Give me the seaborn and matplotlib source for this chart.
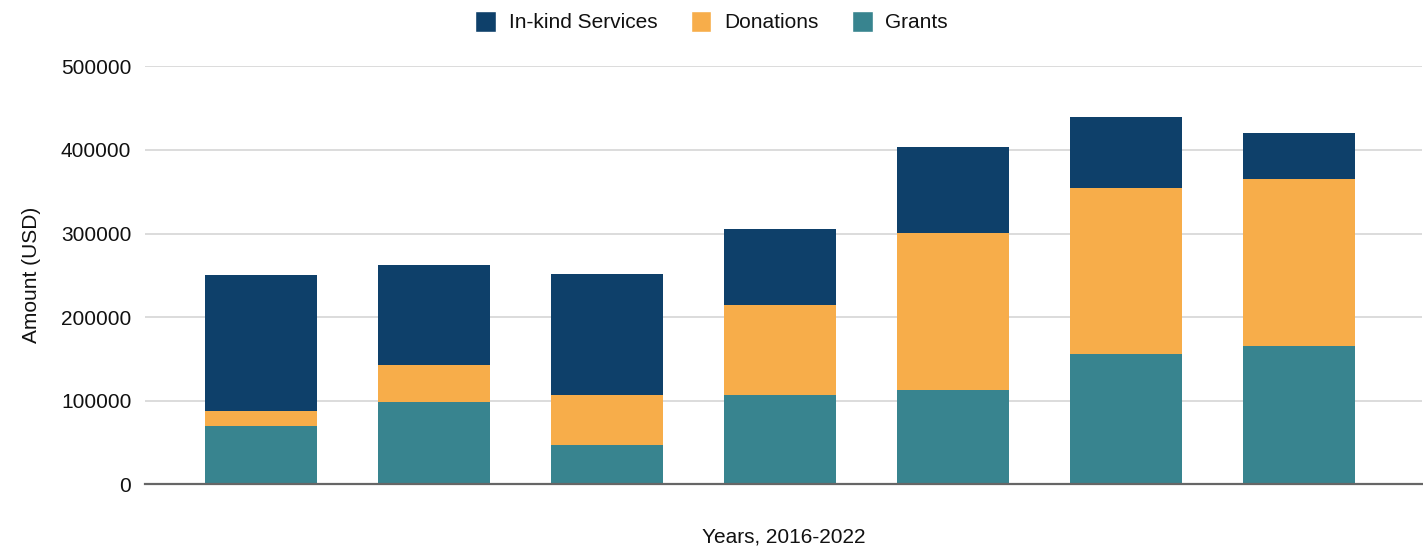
import pandas as pd
import matplotlib.pyplot as plt
from matplotlib.patches import Patch
import seaborn as sns

years = [2016, 2017, 2018, 2019, 2020, 2021, 2022]
grants = [70000, 98000, 47000, 107000, 113000, 156000, 166000]
donations = [18000, 45000, 60000, 107000, 188000, 198000, 199000]
in_kind = [162000, 119000, 145000, 91000, 102000, 85000, 55000]

colors = {"In-kind Services": "#0e406a", "Donations": "#f7ad4a", "Grants": "#38848f"}

df = pd.DataFrame({"year": years, "grants": grants,
                   "donations": donations, "in_kind": in_kind})
df["lvl_grants"] = df["grants"]
df["lvl_donations"] = df["grants"] + df["donations"]
df["lvl_total"] = df["lvl_donations"] + df["in_kind"]

sns.set_theme(style="white")
plt.rcParams["font.family"] = ["Liberation Sans", "DejaVu Sans"]
plt.rcParams["text.color"] = "#111111"
plt.rcParams["axes.labelcolor"] = "#111111"
plt.rcParams["ytick.color"] = "#111111"

fig, ax = plt.subplots(figsize=(14.23, 5.48), dpi=100)
plt.subplots_adjust(left=0.102, right=0.999, bottom=0.116, top=0.879)

# draw back to front so the stacks show
for col, name in [("lvl_total", "In-kind Services"),
                  ("lvl_donations", "Donations"),
                  ("lvl_grants", "Grants")]:
    sns.barplot(data=df, x="year", y=col, color=colors[name],
                width=0.65, saturation=1, ax=ax, zorder=3,
                edgecolor="none", linewidth=0)

ax.set_ylim(0, 500000)
ax.set_xlim(-0.67, 6.71)
ax.set_yticks([0, 100000, 200000, 300000, 400000, 500000])
ax.set_yticklabels(["0", "100000", "200000", "300000", "400000", "500000"], fontsize=15)
ax.set_xticks([])
ax.yaxis.grid(True, color="#d9d9d9", linewidth=1.3, zorder=0)
ax.tick_params(axis="y", length=0, pad=10)
for s in ["top", "right", "left"]:
    ax.spines[s].set_visible(False)
ax.spines["bottom"].set_color("#666666")
ax.spines["bottom"].set_linewidth(1.6)
ax.spines["bottom"].set_zorder(4)

ax.set_ylabel("Amount (USD)", fontsize=15, labelpad=14)
ax.set_xlabel("Years, 2016-2022", fontsize=15, labelpad=31)

handles = [Patch(facecolor=colors[k], label=k) for k in colors]
fig.legend(handles=handles, loc="upper center", bbox_to_anchor=(0.5, 1.015),
           ncol=3, frameon=False, fontsize=15, handlelength=1.0,
           handleheight=1.2, columnspacing=1.6, handletextpad=0.6)

fig.savefig("out.png", dpi=100)
